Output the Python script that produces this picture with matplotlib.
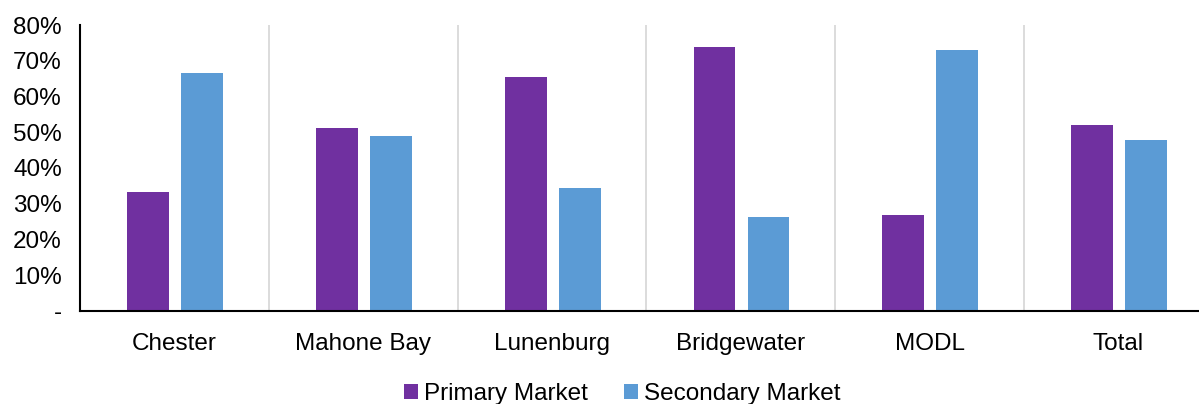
import numpy as np
import matplotlib.pyplot as plt
from matplotlib.ticker import FuncFormatter

plt.rcParams['font.family'] = ['Liberation Sans', 'DejaVu Sans']

# Share of sales by market, per community
communities = ['Chester', 'Mahone Bay', 'Lunenburg', 'Bridgewater', 'MODL', 'Total']
primary = [33.3, 51.2, 65.5, 73.8, 26.9, 51.9]
secondary = [66.7, 48.9, 34.4, 26.3, 73.0, 47.8]

PURPLE = '#7030A0'
BLUE = '#5B9BD5'

fig = plt.figure(figsize=(11.99, 4.04), dpi=100)
ax = fig.add_axes([80 / 1199, 1 - 311 / 404, 1 - 80 / 1199, 286 / 404])

x = np.arange(len(communities))
w = 0.222
off = 0.143
ax.bar(x - off + 0.003, primary, w, color=PURPLE, label='Primary Market')
ax.bar(x + off + 0.003, secondary, w, color=BLUE, label='Secondary Market')

# light separators between groups
for b in x[:-1] + 0.5:
    ax.axvline(b, color='#d9d9d9', lw=1.3, zorder=0)

ax.set_xlim(-0.5, 5.426)
ax.set_ylim(0, 80)
ax.set_yticks(np.arange(0, 81, 10))
ax.yaxis.set_major_formatter(FuncFormatter(lambda v, p: '-' if v == 0 else f'{v:.0f}%'))
ax.set_xticks(x)
ax.set_xticklabels(communities)
ax.tick_params(axis='both', length=0, labelsize=17.5)
ax.tick_params(axis='y', pad=13)
ax.tick_params(axis='x', pad=16)

for s in ['top', 'right']:
    ax.spines[s].set_visible(False)
ax.spines['left'].set_linewidth(1.5)
ax.spines['bottom'].set_linewidth(1.5)

fig.legend(loc='center', bbox_to_anchor=(0.519, 0.025), ncol=2, frameon=False,
           fontsize=17.5, handlelength=0.55, handleheight=0.55, handletextpad=0.25,
           columnspacing=1.5)

fig.savefig('out.png', dpi=100)
